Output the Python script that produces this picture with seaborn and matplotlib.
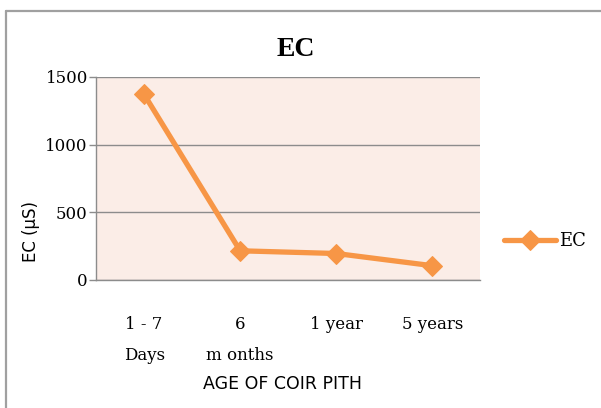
import numpy as np
import pandas as pd
import matplotlib
matplotlib.use("Agg")
import matplotlib.pyplot as plt
from matplotlib.lines import Line2D
import seaborn as sns

# values
ages = ["1 - 7\nDays", "6\nm onths", "1 year", "5 years"]
ec_values = [1370, 215, 195, 105]
y_ticks = [0, 500, 1000, 1500]

df = pd.DataFrame({"age": ages, "EC": ec_values})

sns.set_style("white")
plt.rcParams["font.family"] = ["DejaVu Serif"]
plt.rcParams["text.color"] = "black"
plt.rcParams["axes.labelcolor"] = "black"

fig = plt.figure(figsize=(6.01, 4.08), dpi=100)
ax = fig.add_axes([0.160, 0.314, 0.639, 0.4975])
ax.set_facecolor("#fbede7")

orange = "#f79646"
sns.lineplot(data=df, x="age", y="EC", ax=ax, color=orange, linewidth=3.8,
             marker="D", markersize=10, markeredgecolor=orange, label="EC",
             sort=False)

ax.set_xlim(-0.5, len(ages) - 0.5)
ax.set_ylim(0, 1500)
ax.set_yticks(y_ticks)
ax.set_yticklabels([str(v) for v in y_ticks], fontsize=12)
ax.yaxis.grid(True, color="#8c8c8c", linewidth=1)
ax.set_axisbelow(True)

ax.set_xticks(range(len(ages)))
ax.set_xticklabels(ages, fontsize=12, linespacing=2.05, va="top")
ax.set_xticks(np.arange(-0.5, len(ages)), minor=True)
ax.tick_params(axis="x", which="major", length=0, pad=26, labelcolor="black")
ax.tick_params(axis="x", which="minor", length=5, color="#8c8c8c", width=1,
               direction="out")
ax.tick_params(axis="y", length=5, color="#8c8c8c", width=1, direction="out",
               pad=1, left=True, labelcolor="black")

for side in ["top", "right"]:
    ax.spines[side].set_visible(False)
for side in ["left", "bottom"]:
    ax.spines[side].set_color("#8c8c8c")
    ax.spines[side].set_linewidth(1)

ax.set_xlabel("AGE OF COIR PITH", family="DejaVu Sans", fontsize=12.5)
ax.xaxis.set_label_coords(0.484, -0.47)
ax.set_ylabel("EC (µS)", family="DejaVu Sans", fontsize=12)
ax.yaxis.set_label_coords(-0.145, 0.24)
ax.set_title("EC", fontsize=20, fontweight="bold", family="Liberation Serif",
             x=0.52, y=1.0, pad=15, color="black")

leg = ax.legend(loc="center left", bbox_to_anchor=(1.02, 0.19), frameon=False,
                fontsize=13, handlelength=2.9, handletextpad=0.15)
for t in leg.get_texts():
    t.set_color("black")

# outer frame, only the top and left edges are visible in the reference crop
fig.lines.append(Line2D([0.010, 0.010], [0.0, 0.973], transform=fig.transFigure,
                        color="#a0a0a0", linewidth=1.6))
fig.lines.append(Line2D([0.010, 1.0], [0.973, 0.973], transform=fig.transFigure,
                        color="#a0a0a0", linewidth=1.6))

fig.savefig("out.png", dpi=100)
